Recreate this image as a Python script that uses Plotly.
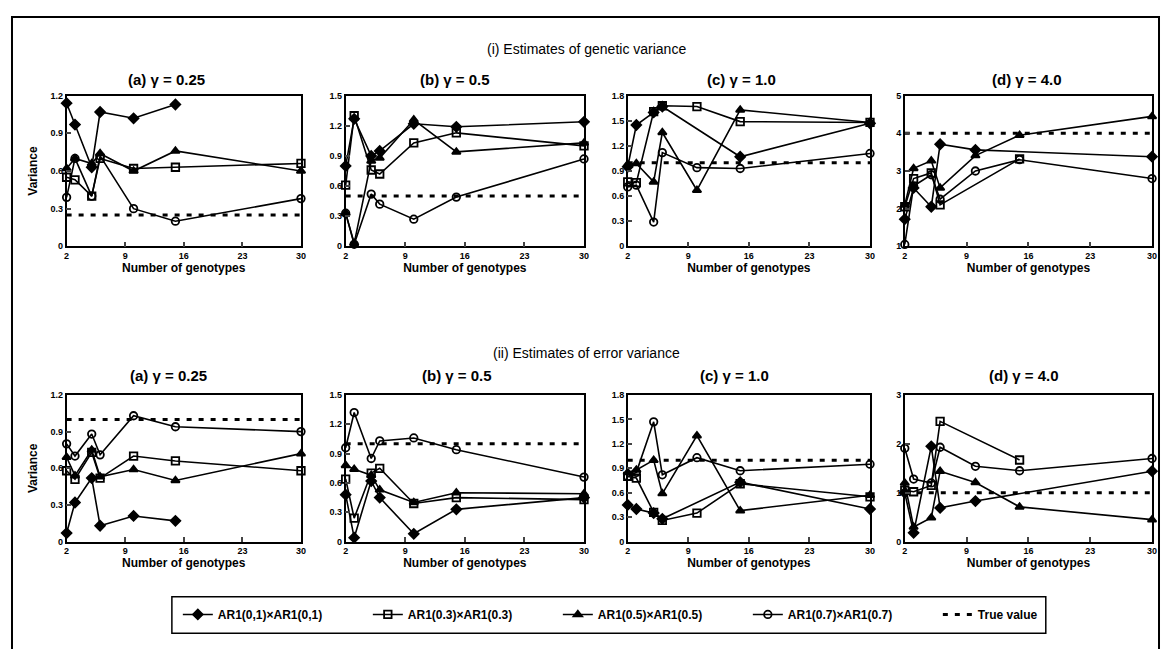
import plotly.graph_objects as go

# ---------------- data ----------------
x_genotypes = [2, 3, 5, 6, 10, 15, 30]
x_ticks = [2, 9, 16, 23, 30]

series_names = ["AR1(0,1)×AR1(0,1)", "AR1(0.3)×AR1(0.3)",
                "AR1(0.5)×AR1(0.5)", "AR1(0.7)×AR1(0.7)"]
true_value_name = "True value"
gamma_labels = ["(a) γ = 0.25", "(b) γ = 0.5", "(c) γ = 1.0", "(d) γ = 4.0"]
section_titles = ["(i) Estimates of genetic variance", "(ii) Estimates of error variance"]

# (i) genetic variance
gen_a_ar01 = [1.14, 0.97, 0.63, 1.07, 1.02, 1.13, None]
gen_a_ar03 = [0.55, 0.53, 0.40, 0.70, 0.62, 0.63, 0.66]
gen_a_ar05 = [0.62, 0.70, 0.66, 0.74, 0.60, 0.76, 0.60]
gen_a_ar07 = [0.39, 0.70, 0.40, 0.72, 0.30, 0.20, 0.38]

gen_b_ar01 = [0.80, 1.27, 0.90, 0.95, 1.22, 1.19, 1.24]
gen_b_ar03 = [0.61, 1.30, 0.76, 0.72, 1.03, 1.13, 1.00]
gen_b_ar05 = [0.33, 0.03, 0.85, 0.88, 1.26, 0.94, 1.03]
gen_b_ar07 = [0.33, 0.02, 0.52, 0.42, 0.27, 0.49, 0.87]

gen_c_ar01 = [0.95, 1.45, 1.60, 1.67, None, 1.07, 1.47]
gen_c_ar03 = [0.77, 0.76, 1.61, 1.68, 1.67, 1.49, 1.48]
gen_c_ar05 = [0.98, 0.99, 0.77, 1.36, 0.67, 1.63, 1.48]
gen_c_ar07 = [0.71, 0.73, 0.29, 1.12, 0.94, 0.93, 1.11]

gen_d_ar01 = [1.72, 2.55, 2.05, 3.71, 3.56, None, 3.38]
gen_d_ar03 = [2.05, 2.80, 2.95, 2.10, None, 3.32, None]
gen_d_ar05 = [2.10, 3.07, 3.27, 2.55, 3.41, 3.95, 4.45]
gen_d_ar07 = [1.05, 2.60, 2.90, 2.25, 3.00, 3.30, 2.80]

gen_true = [0.25, 0.5, 1.0, 4.0]

# (ii) error variance
err_a_ar01 = [0.07, 0.32, 0.52, 0.13, 0.21, 0.17, None]
err_a_ar03 = [0.58, 0.51, 0.73, 0.52, 0.70, 0.66, 0.58]
err_a_ar05 = [0.69, 0.54, 0.75, 0.53, 0.59, 0.50, 0.72]
err_a_ar07 = [0.80, 0.70, 0.88, 0.71, 1.03, 0.94, 0.90]

err_b_ar01 = [0.48, 0.04, 0.62, 0.45, 0.08, 0.33, 0.45]
err_b_ar03 = [0.64, 0.24, 0.70, 0.75, 0.39, 0.45, 0.43]
err_b_ar05 = [0.78, 0.74, 0.68, 0.53, 0.40, 0.50, 0.49]
err_b_ar07 = [0.96, 1.32, 0.85, 1.03, 1.06, 0.94, 0.66]

err_c_ar01 = [0.45, 0.40, 0.35, 0.28, None, 0.73, 0.40]
err_c_ar03 = [0.80, 0.78, 0.36, 0.26, 0.35, 0.71, 0.55]
err_c_ar05 = [0.85, 0.88, 1.00, 0.59, 1.30, 0.38, 0.57]
err_c_ar07 = [0.80, 0.85, 1.47, 0.82, 1.03, 0.87, 0.95]

err_d_ar01 = [1.00, 0.18, 1.95, 0.69, 0.83, None, 1.44]
err_d_ar03 = [1.05, 1.02, 1.15, 2.46, None, 1.67, None]
err_d_ar05 = [1.20, 0.30, 0.49, 1.44, 1.21, 0.71, 0.45]
err_d_ar07 = [1.91, 1.28, 1.20, 1.93, 1.54, 1.45, 1.70]

err_true = [1.0, 1.0, 1.0, 1.0]

gen_yticks = [[0, 0.3, 0.6, 0.9, 1.2], [0, 0.3, 0.6, 0.9, 1.2, 1.5],
              [0, 0.3, 0.6, 0.9, 1.2, 1.5, 1.8], [1, 2, 3, 4, 5]]
err_yticks = [[0, 0.3, 0.6, 0.9, 1.2], [0, 0.3, 0.6, 0.9, 1.2, 1.5],
              [0, 0.3, 0.6, 0.9, 1.2, 1.5, 1.8], [0, 1, 2, 3]]

# ---------------- assembly ----------------
gen_panels = [
    [gen_a_ar01, gen_a_ar03, gen_a_ar05, gen_a_ar07],
    [gen_b_ar01, gen_b_ar03, gen_b_ar05, gen_b_ar07],
    [gen_c_ar01, gen_c_ar03, gen_c_ar05, gen_c_ar07],
    [gen_d_ar01, gen_d_ar03, gen_d_ar05, gen_d_ar07],
]
err_panels = [
    [err_a_ar01, err_a_ar03, err_a_ar05, err_a_ar07],
    [err_b_ar01, err_b_ar03, err_b_ar05, err_b_ar07],
    [err_c_ar01, err_c_ar03, err_c_ar05, err_c_ar07],
    [err_d_ar01, err_d_ar03, err_d_ar05, err_d_ar07],
]

# figure sized so that it fits inside the page body (8px default margin)
W, H = 1157, 641
OFF = 8


def px(p):
    return (p - OFF) / W


def py(p):
    return 1 - (p - OFF) / H


FONT = "Liberation Sans, Arial, sans-serif"
col_px = [(64, 300), (345, 585), (629, 873), (908, 1157)]
row_px = [(92, 245), (396, 545)]
title_cx = [[165, 455, 744, 1031], [167, 457, 737, 1028]]
title_y = [76, 376]
section_y = [45, 353]

symbols = ["diamond", "square-open", "triangle-up", "circle-open"]

fig = go.Figure()
layout_axes = {}
annotations = []

for r, (panels, trues, yticks) in enumerate([(gen_panels, gen_true, gen_yticks),
                                             (err_panels, err_true, err_yticks)]):
    for c in range(4):
        idx = r * 4 + c + 1
        xa = "x" if idx == 1 else f"x{idx}"
        ya = "y" if idx == 1 else f"y{idx}"
        first = (idx == 1)
        for s in range(4):
            fig.add_trace(go.Scatter(
                x=x_genotypes, y=panels[c][s], xaxis=xa, yaxis=ya,
                mode="lines+markers", name=series_names[s],
                legendgroup=series_names[s], showlegend=first,
                connectgaps=True, cliponaxis=False,
                line=dict(color="black", width=1.6),
                marker=dict(symbol=symbols[s], size=7.5, color="black",
                            line=dict(color="black", width=1.8)),
            ))
        fig.add_trace(go.Scatter(
            x=[x_genotypes[0], x_genotypes[-1]], y=[trues[c], trues[c]],
            xaxis=xa, yaxis=ya, mode="lines", name=true_value_name,
            legendgroup="true", showlegend=first,
            line=dict(color="black", width=3, dash="5px,7px"),
        ))
        x0, x1 = col_px[c]
        y0, y1 = row_px[r]
        xname = "xaxis" if idx == 1 else f"xaxis{idx}"
        yname = "yaxis" if idx == 1 else f"yaxis{idx}"
        layout_axes[xname] = dict(
            domain=[px(x0), px(x1)], anchor=ya, range=[2, 30],
            tickvals=x_ticks, ticks="inside", ticklen=5, tickwidth=1.5,
            showline=True, mirror=True, linecolor="black", linewidth=1.5,
            showgrid=False, zeroline=False,
            tickfont=dict(family=FONT, size=9, color="black", weight="bold"),
            title=dict(text="Number of genotypes", standoff=2,
                       font=dict(family=FONT, size=12, color="black", weight="bold")),
        )
        yt = yticks[c]
        layout_axes[yname] = dict(
            domain=[py(y1), py(y0)], anchor=xa, range=[yt[0], yt[-1]],
            tickvals=yt, ticks="inside", ticklen=5, tickwidth=1.5,
            showline=True, mirror=True, linecolor="black", linewidth=1.5,
            showgrid=False, zeroline=False,
            tickfont=dict(family=FONT, size=9, color="black", weight="bold"),
            title=dict(text="Variance" if c == 0 else "", standoff=10,
                       font=dict(family=FONT, size=12, color="black", weight="bold")),
        )
        annotations.append(dict(
            text=gamma_labels[c], x=px(title_cx[r][c]), y=py(title_y[r]),
            xref="paper", yref="paper", xanchor="center", yanchor="middle",
            showarrow=False,
            font=dict(family=FONT, size=15, color="black", weight="bold"),
        ))
    annotations.append(dict(
        text=section_titles[r], x=px(588), y=py(section_y[r]),
        xref="paper", yref="paper", xanchor="center", yanchor="middle",
        showarrow=False, font=dict(family=FONT, size=14, color="black"),
    ))

shapes = [
    dict(type="rect", xref="paper", yref="paper",
         x0=px(9), x1=px(1164), y0=-0.05, y1=py(12),
         line=dict(color="black", width=2)),
    dict(type="rect", xref="paper", yref="paper",
         x0=px(170), x1=px(1050), y0=py(638), y1=py(601),
         line=dict(color="black", width=1.5)),
]

fig.update_layout(
    width=W, height=H, margin=dict(l=0, r=0, t=0, b=0),
    paper_bgcolor="white", plot_bgcolor="white",
    font=dict(family=FONT, color="black"),
    annotations=annotations, shapes=shapes,
    legend=dict(orientation="h", x=px(176), xanchor="left",
                y=py(619), yanchor="middle",
                entrywidth=145, entrywidthmode="pixels",
                bgcolor="rgba(0,0,0,0)", borderwidth=0,
                font=dict(family=FONT, size=12, color="black", weight="bold")),
    **layout_axes,
)

fig.write_html("out.html")
